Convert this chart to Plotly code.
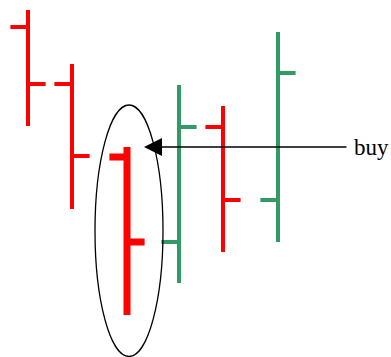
import plotly.graph_objects as go

# --- DATA (price units) ---
day = [0, 0.88, 1.98, 3.02, 3.9, 5]
open_ = [33.3, 27.6, 20.3, 11.8, 23.3, 16.0]
high = [35.0, 29.6, 21.3, 27.5, 25.4, 32.8]
low = [23.4, 15.1, 4.5, 7.7, 10.8, 11.8]
close = [27.6, 20.4, 11.8, 23.3, 16.0, 28.7]

RED = "#ff0000"
GREEN = "#339966"
SIGNAL = 2  # the bar inside the ellipse


def ohlc(idx, width):
    return go.Ohlc(
        x=[day[i] for i in idx],
        open=[open_[i] for i in idx],
        high=[high[i] for i in idx],
        low=[low[i] for i in idx],
        close=[close[i] for i in idx],
        increasing=dict(line=dict(color=GREEN, width=width)),
        decreasing=dict(line=dict(color=RED, width=width)),
        tickwidth=0.4,
        showlegend=False,
        hoverinfo="skip",
    )


fig = go.Figure()
fig.add_trace(ohlc([i for i in range(len(day)) if i != SIGNAL], 4))
fig.add_trace(ohlc([SIGNAL], 7))

# ellipse round the signal bar
fig.add_shape(type="circle", xref="x", yref="y",
              x0=1.34, x1=2.7, y0=0.35, y1=25.5,
              line=dict(color="black", width=1.3))

# arrow pointing at the signal bar's high
fig.add_annotation(x=2.32, y=high[SIGNAL], ax=6.4, ay=high[SIGNAL],
                   xref="x", yref="y", axref="x", ayref="y",
                   text="", showarrow=True, arrowhead=2, arrowsize=2.4,
                   arrowwidth=1.5, arrowcolor="black")
fig.add_annotation(x=6.48, y=high[SIGNAL], xref="x", yref="y",
                   text="buy", showarrow=False, xanchor="left", yanchor="middle",
                   font=dict(family="Liberation Serif", size=23, color="black"))

fig.update_layout(
    width=391, height=357,
    margin=dict(l=0, r=0, t=0, b=0),
    paper_bgcolor="white", plot_bgcolor="white",
    xaxis=dict(range=[-0.56, 7.26], visible=False, rangeslider=dict(visible=False)),
    yaxis=dict(range=[0.3, 36], visible=False),
)

# drop the page's default body margin so the figure sits at the top-left
fig.write_html("out.html", config=dict(displayModeBar=False),
               post_script="document.body.style.margin='0';")
